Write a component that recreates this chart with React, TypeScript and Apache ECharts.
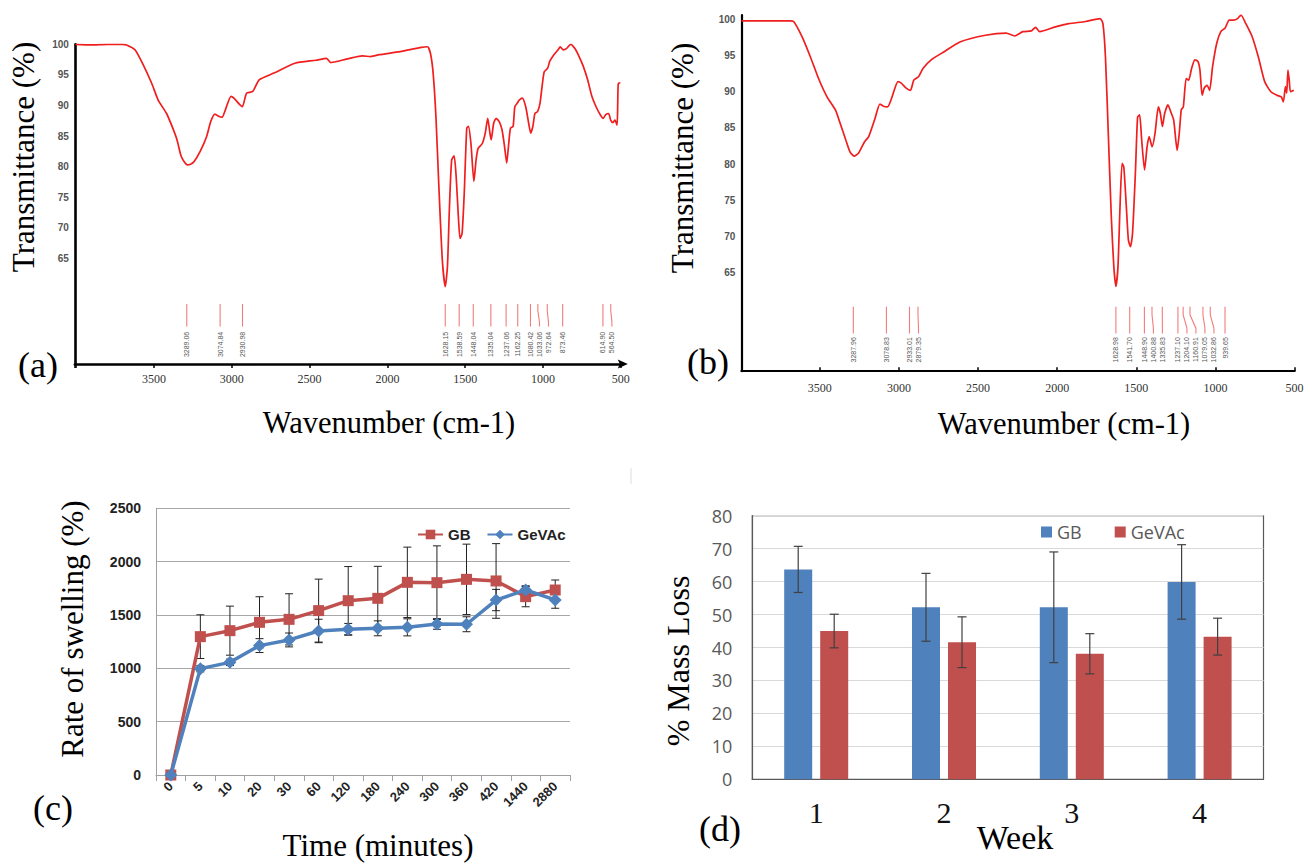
import React, { useEffect, useRef } from 'react';
import * as echarts from 'echarts';

// ---------- (a) & (b) FTIR spectra ----------
const wavenumberTickLabels = [500, 1000, 1500, 2000, 2500, 3000, 3500];
const transmittanceTickLabels = [65, 70, 75, 80, 85, 90, 95, 100];

const spectrumA: [number, number][] = [
  [4005, 100.0], [3900, 99.9], [3800, 100.0], [3703, 100.0], [3676, 99.9], [3622, 99.1], [3568, 96.6],
  [3514, 93.6], [3473, 90.9], [3419, 88.7], [3379, 86.3], [3352, 84.4], [3325, 81.7], [3300, 80.6],
  [3284, 80.3], [3265, 80.4], [3243, 80.8], [3203, 82.5], [3162, 84.9], [3135, 87.4], [3108, 88.6],
  [3081, 88.2], [3062, 88.1], [3041, 89.3], [3005, 91.5], [2986, 91.2], [2950, 90.2], [2932, 89.8],
  [2905, 92.0], [2865, 92.3], [2824, 94.2], [2729, 95.3], [2594, 96.9], [2459, 97.4], [2391, 97.7],
  [2364, 97.0], [2323, 97.2], [2242, 97.7], [2161, 98.1], [2107, 98.0], [2053, 98.3], [1918, 98.8],
  [1782, 99.5], [1742, 99.6], [1723, 98.5], [1706, 95.3], [1688, 88.2], [1669, 76.7], [1647, 64.8],
  [1628, 60.4], [1614, 63.7], [1601, 73.5], [1587, 81.1], [1571, 81.8], [1558, 78.4], [1544, 71.9],
  [1533, 68.3], [1520, 69.1], [1506, 75.7], [1490, 86.3], [1479, 86.6], [1463, 83.8], [1444, 77.6],
  [1430, 81.1], [1417, 83.0], [1390, 83.8], [1371, 85.5], [1355, 87.9], [1341, 85.5], [1333, 84.4],
  [1317, 87.1], [1301, 87.9], [1282, 87.4], [1263, 86.0], [1247, 83.3], [1233, 80.6], [1222, 83.3],
  [1209, 86.3], [1192, 86.6], [1181, 89.8], [1165, 90.4], [1152, 90.9], [1133, 91.2], [1111, 89.8],
  [1092, 87.1], [1079, 85.5], [1065, 86.6], [1052, 88.7], [1035, 89.0], [1019, 90.4], [1006, 93.1],
  [992, 95.5], [970, 96.1], [957, 97.2], [930, 98.3], [903, 99.1], [889, 99.6], [870, 99.1],
  [849, 99.3], [822, 100.0], [795, 99.3], [768, 98.0], [741, 96.4], [713, 94.2], [686, 91.5],
  [659, 89.8], [632, 88.5], [613, 87.9], [597, 88.5], [578, 88.7], [565, 87.6], [551, 87.2],
  [538, 87.6], [524, 86.8], [520, 90.0], [516, 93.6], [503, 93.7],
];

const spectrumB: [number, number][] = [
  [3995, 99.8], [3850, 99.8], [3691, 99.8], [3665, 99.7], [3612, 97.6], [3559, 94.8], [3507, 91.8],
  [3454, 89.3], [3401, 87.5], [3375, 85.9], [3335, 83.3], [3309, 81.7], [3283, 81.1], [3256, 81.5],
  [3217, 83.1], [3191, 83.8], [3151, 86.3], [3120, 88.3], [3098, 88.0], [3072, 87.9], [3046, 89.1],
  [3006, 91.4], [2985, 91.2], [2954, 90.5], [2927, 90.2], [2906, 91.6], [2875, 92.1], [2848, 93.2],
  [2796, 94.4], [2717, 95.5], [2611, 96.9], [2453, 97.8], [2322, 98.1], [2269, 97.7], [2216, 98.3],
  [2164, 98.4], [2137, 98.9], [2111, 98.3], [2006, 99.0], [1927, 99.4], [1821, 99.7], [1729, 100.1],
  [1711, 99.4], [1695, 94.8], [1677, 84.2], [1658, 72.7], [1642, 65.8], [1629, 63.1], [1616, 65.8],
  [1603, 74.1], [1590, 80.1], [1579, 79.6], [1563, 74.1], [1550, 69.5], [1537, 68.6], [1524, 70.4],
  [1506, 78.7], [1492, 86.5], [1479, 86.8], [1466, 83.3], [1448, 79.2], [1432, 82.4], [1419, 83.8],
  [1400, 82.4], [1382, 84.2], [1361, 87.9], [1348, 87.0], [1335, 85.2], [1321, 87.0], [1300, 88.2],
  [1282, 87.2], [1264, 86.1], [1242, 81.9], [1229, 84.2], [1216, 87.5], [1203, 87.9], [1185, 91.8],
  [1169, 91.6], [1151, 93.2], [1130, 94.4], [1111, 94.2], [1098, 93.0], [1084, 89.5], [1071, 90.5],
  [1053, 90.9], [1037, 90.2], [1018, 93.5], [992, 96.7], [966, 98.3], [939, 98.8], [913, 99.9],
  [887, 99.9], [860, 100.1], [839, 100.6], [808, 99.4], [768, 97.6], [729, 94.8], [689, 91.4],
  [650, 90.0], [610, 89.5], [584, 89.3], [571, 88.6], [558, 90.7], [550, 89.8], [542, 93.0],
  [534, 91.6], [526, 90.0], [505, 90.2],
];

const peaksA = [3289.06, 3074.84, 2930.98, 1628.15, 1538.59, 1448.04, 1335.04, 1237.06, 1162.25, 1080.42, 1033.06, 972.64, 873.46, 614.9, 564.5];
const peaksB = [3287.96, 3078.83, 2933.01, 2879.35, 1628.98, 1541.7, 1448.9, 1400.88, 1335.83, 1237.1, 1204.1, 1160.91, 1079.05, 1032.86, 939.65];

// ---------- (c) swelling ----------
const timeCategories = ['0', '5', '10', '20', '30', '60', '120', '180', '240', '300', '360', '420', '1440', '2880'];
const swellingGB = [0, 1297, 1353, 1431, 1459, 1541, 1634, 1656, 1806, 1803, 1834, 1819, 1672, 1734];
const swellingGBErr = [0, 205, 230, 240, 240, 295, 320, 300, 330, 345, 330, 350, 95, 94];
const swellingGeVAc = [0, 997, 1056, 1213, 1266, 1350, 1366, 1375, 1384, 1416, 1413, 1640, 1734, 1641];
const swellingGeVAcErr = [0, 30, 30, 65, 65, 110, 55, 70, 80, 50, 70, 100, 40, 78];
const swellingTicks = [0, 500, 1000, 1500, 2000, 2500];

// ---------- (d) mass loss ----------
const weeks = ['1', '2', '3', '4'];
const massLossGB = [63.7, 52.2, 52.2, 59.9];
const massLossGBErr = [7.0, 10.3, 16.8, 11.3];
const massLossGeVAc = [45.0, 41.6, 38.1, 43.3];
const massLossGeVAcErr = [5.1, 7.7, 6.1, 5.6];
const massLossTicks = [0, 10, 20, 30, 40, 50, 60, 70, 80];

const SERIF = 'Liberation Serif, Times New Roman, serif';
const SANS = 'Liberation Sans, Arial, sans-serif';
const CALIBRI = 'Open Sans, sans-serif';
const SPEC_RED = '#f01e1e';
const PEAK_RED = '#f27c7c';
const RED = '#c0504d';
const BLUE = '#4f81bd';
const LABEL_SPACING = 9;

// panel (a) plot frame, used for the grid and the axis arrow head
const GRID_A = { left: 74.9, top: 44.3, width: 545.9, height: 319.6 };

function isMultiple(v: number, m: number) {
  return Math.abs(v / m - Math.round(v / m)) < 1e-6;
}

function makePeakRenderer(peaks: number[], yTop: number, yBottom: number, yLabel: number) {
  return (params: any, api: any) => {
    const i = params.dataIndex;
    let prev = -Infinity;
    let lineX = 0;
    let labelX = 0;
    for (let k = 0; k <= i; k++) {
      const x = api.coord([peaks[k], yTop])[0];
      const lx = Math.max(x, prev + LABEL_SPACING);
      prev = lx;
      if (k === i) {
        lineX = x;
        labelX = lx;
      }
    }
    const yT = api.coord([peaks[i], yTop])[1];
    const yB = api.coord([peaks[i], yBottom])[1];
    const yL = api.coord([peaks[i], yLabel])[1];
    const h = yB - yT;
    return {
      type: 'group',
      children: [
        {
          type: 'polyline',
          shape: { points: [[lineX, yT], [lineX, yT + h * 0.3], [labelX, yT + h * 0.8], [labelX, yB]] },
          style: { stroke: PEAK_RED, lineWidth: 1.1, fill: 'none' },
        },
        {
          type: 'text',
          x: labelX,
          y: yL,
          rotation: Math.PI / 2,
          style: {
            text: peaks[i].toFixed(2),
            fontSize: 7,
            fontFamily: SANS,
            fill: '#555',
            align: 'right',
            verticalAlign: 'middle',
          },
        },
      ],
    };
  };
}

function makeErrRenderer(offset: number, cap: number, color: string, width: number) {
  return (params: any, api: any) => {
    const idx = api.value(0);
    const v = api.value(1);
    const e = api.value(2);
    if (!e) return { type: 'group', children: [] };
    const top = api.coord([idx, v + e]);
    const bot = api.coord([idx, v - e]);
    const x = top[0] + offset;
    const style = { stroke: color, lineWidth: width };
    return {
      type: 'group',
      children: [
        { type: 'line', shape: { x1: x, y1: top[1], x2: x, y2: bot[1] }, style },
        { type: 'line', shape: { x1: x - cap / 2, y1: top[1], x2: x + cap / 2, y2: top[1] }, style },
        { type: 'line', shape: { x1: x - cap / 2, y1: bot[1], x2: x + cap / 2, y2: bot[1] }, style },
      ],
    };
  };
}

function spectrumXAxis(gridIndex: number, max: number, inside: boolean, width: number, margin: number) {
  return {
    gridIndex,
    type: 'value',
    min: 500,
    max,
    interval: 500,
    inverse: true,
    axisLine: { show: true, onZero: false, lineStyle: { color: '#000', width } },
    axisTick: { show: true, inside, length: 4, lineStyle: { color: '#000', width: 1.5 } },
    axisLabel: {
      margin,
      fontFamily: SERIF,
      fontSize: 12,
      color: '#333',
      formatter: (v: number) => (wavenumberTickLabels.indexOf(v) >= 0 ? String(v) : ''),
    },
    splitLine: { show: false },
  };
}

function spectrumYAxis(gridIndex: number, min: number, max: number, width: number) {
  return {
    gridIndex,
    type: 'value',
    min,
    max,
    interval: 0.2,
    axisLine: { show: true, onZero: false, lineStyle: { color: '#000', width } },
    axisTick: { show: false },
    splitLine: { show: false },
    axisLabel: {
      margin: 6,
      fontFamily: SANS,
      fontSize: 10,
      fontWeight: 'bold',
      color: '#555',
      formatter: (v: number) => {
        const r = Math.round(v);
        return isMultiple(v, 5) && transmittanceTickLabels.indexOf(r) >= 0 ? String(r) : '';
      },
    },
  };
}

function title(text: string, x: number, y: number, size: number, rotate = false) {
  return {
    type: 'text',
    x,
    y,
    rotation: rotate ? Math.PI / 2 : 0,
    style: {
      text,
      fontFamily: SERIF,
      fontSize: size,
      fill: '#000',
      align: 'center',
      verticalAlign: 'middle',
    },
    silent: true,
  };
}

const arrowX = GRID_A.left + GRID_A.width;
const arrowY = GRID_A.top + GRID_A.height;

const option: any = {
  animation: false,
  backgroundColor: '#ffffff',
  grid: [
    { ...GRID_A, outerBoundsMode: 'none' },
    { left: 741.4, top: 15, width: 553.2, height: 356.2, outerBoundsMode: 'none' },
    { left: 156, top: 508.3, width: 414, height: 266.7, outerBoundsMode: 'none' },
    {
      left: 752.3, top: 515.7, width: 511.2, height: 263.6, outerBoundsMode: 'none',
      show: true, borderColor: '#595959', borderWidth: 1.2, backgroundColor: 'transparent',
    },
  ],
  xAxis: [
    spectrumXAxis(0, 4008, false, 2.6, 9),
    spectrumXAxis(1, 3995, true, 2.2, 11),
    {
      gridIndex: 2,
      type: 'category',
      data: timeCategories,
      boundaryGap: true,
      axisLine: { show: true, lineStyle: { color: '#a0a0a0', width: 1 } },
      axisTick: { show: true, length: 6, lineStyle: { color: '#a0a0a0' } },
      axisLabel: { rotate: 45, margin: 9, fontFamily: SANS, fontWeight: 'bold', fontSize: 13, color: '#222', interval: 0 },
      splitLine: { show: false },
    },
    {
      gridIndex: 3,
      type: 'category',
      data: weeks,
      axisLine: { show: true, lineStyle: { color: '#595959', width: 1.2 } },
      axisTick: { show: false },
      axisLabel: { margin: 18, fontFamily: SERIF, fontSize: 30, color: '#111' },
      splitLine: { show: false },
    },
  ],
  yAxis: [
    spectrumYAxis(0, 47.8, 100, 2.6),
    spectrumYAxis(1, 51.4, 100.6, 2.2),
    {
      gridIndex: 2,
      type: 'value',
      min: swellingTicks[0],
      max: swellingTicks[swellingTicks.length - 1],
      interval: 500,
      axisLine: { show: true, lineStyle: { color: '#a0a0a0', width: 1 } },
      axisTick: { show: false },
      splitLine: { show: true, lineStyle: { color: '#a8a8a8', width: 1 } },
      axisLabel: {
        margin: 15, fontFamily: SANS, fontWeight: 'bold', fontSize: 14, color: '#222',
        formatter: (v: number) => String(v),
      },
    },
    {
      gridIndex: 3,
      type: 'value',
      min: massLossTicks[0],
      max: massLossTicks[massLossTicks.length - 1],
      interval: 10,
      axisLine: { show: true, lineStyle: { color: '#595959', width: 1.2 } },
      axisTick: { show: false },
      splitLine: { show: true, lineStyle: { color: '#d9d9d9', width: 1 } },
      axisLabel: { margin: 20, fontFamily: CALIBRI, fontSize: 18, color: '#595959', formatter: (v: number) => String(v) },
    },
  ],
  legend: [
    {
      data: ['GB', 'GeVAc'],
      left: 412,
      top: 522,
      itemWidth: 25,
      itemHeight: 12,
      itemGap: 16,
      selectedMode: false,
      textStyle: { fontFamily: SANS, fontWeight: 'bold', fontSize: 15, color: '#222' },
    },
    {
      data: [
        { name: 'GB', icon: 'rect', itemStyle: { color: BLUE } },
        { name: 'GeVAc', icon: 'rect', itemStyle: { color: RED } },
      ],
      left: 1036,
      top: 518,
      itemWidth: 11,
      itemHeight: 11,
      itemGap: 33,
      selectedMode: false,
      textStyle: { fontFamily: CALIBRI, fontSize: 18, color: '#595959' },
    },
  ],
  series: [
    // (c) swelling lines
    {
      type: 'line',
      name: 'GB',
      xAxisIndex: 2,
      yAxisIndex: 2,
      data: swellingGB,
      symbol: 'rect',
      symbolSize: 11,
      lineStyle: { color: RED, width: 3.5 },
      itemStyle: { color: RED },
      z: 3,
    },
    {
      type: 'line',
      name: 'GeVAc',
      xAxisIndex: 2,
      yAxisIndex: 2,
      data: swellingGeVAc,
      symbol: 'diamond',
      symbolSize: 13,
      lineStyle: { color: BLUE, width: 3.5 },
      itemStyle: { color: BLUE },
      z: 4,
    },
    {
      type: 'custom',
      xAxisIndex: 2,
      yAxisIndex: 2,
      renderItem: makeErrRenderer(0, 8, '#222', 1),
      data: swellingGB.map((v, i) => [i, v, swellingGBErr[i]]),
      encode: { x: 0, y: 1 },
      z: 2,
      silent: true,
    },
    {
      type: 'custom',
      xAxisIndex: 2,
      yAxisIndex: 2,
      renderItem: makeErrRenderer(0, 8, '#222', 1),
      data: swellingGeVAc.map((v, i) => [i, v, swellingGeVAcErr[i]]),
      encode: { x: 0, y: 1 },
      z: 2,
      silent: true,
    },
    // (d) mass loss bars
    {
      type: 'bar',
      name: 'GB',
      xAxisIndex: 3,
      yAxisIndex: 3,
      data: massLossGB,
      barWidth: 28,
      barGap: '28.6%',
      itemStyle: { color: BLUE },
    },
    {
      type: 'bar',
      name: 'GeVAc',
      xAxisIndex: 3,
      yAxisIndex: 3,
      data: massLossGeVAc,
      barWidth: 28,
      barGap: '28.6%',
      itemStyle: { color: RED },
    },
    {
      type: 'custom',
      xAxisIndex: 3,
      yAxisIndex: 3,
      renderItem: makeErrRenderer(-18, 9, '#404040', 1.2),
      data: massLossGB.map((v, i) => [i, v, massLossGBErr[i]]),
      encode: { x: 0, y: 1 },
      z: 5,
      silent: true,
    },
    {
      type: 'custom',
      xAxisIndex: 3,
      yAxisIndex: 3,
      renderItem: makeErrRenderer(18, 9, '#404040', 1.2),
      data: massLossGeVAc.map((v, i) => [i, v, massLossGeVAcErr[i]]),
      encode: { x: 0, y: 1 },
      z: 5,
      silent: true,
    },
    // (a) spectrum
    {
      type: 'line',
      name: 'Spectrum (a)',
      xAxisIndex: 0,
      yAxisIndex: 0,
      data: spectrumA,
      showSymbol: false,
      smooth: 0.2,
      lineStyle: { color: SPEC_RED, width: 1.7 },
      silent: true,
    },
    {
      type: 'custom',
      xAxisIndex: 0,
      yAxisIndex: 0,
      renderItem: makePeakRenderer(peaksA, 57.6, 53.9, 53.05),
      data: peaksA.map((w) => [w, 57.6]),
      encode: { x: 0, y: 1 },
      silent: true,
    },
    // (b) spectrum
    {
      type: 'line',
      name: 'Spectrum (b)',
      xAxisIndex: 1,
      yAxisIndex: 1,
      data: spectrumB,
      showSymbol: false,
      smooth: 0.2,
      lineStyle: { color: SPEC_RED, width: 1.7 },
      silent: true,
    },
    {
      type: 'custom',
      xAxisIndex: 1,
      yAxisIndex: 1,
      renderItem: makePeakRenderer(peaksB, 60.3, 56.6, 56.1),
      data: peaksB.map((w) => [w, 60.3]),
      encode: { x: 0, y: 1 },
      silent: true,
    },
  ],
  graphic: [
    title('Transmittance (%)', 23, 157, 31, true),
    title('(a)', 38, 365, 36),
    title('Wavenumber (cm-1)', 389, 423, 30.5),
    title('Transmittance (%)', 682, 158, 31, true),
    title('(b)', 708, 362, 36),
    title('Wavenumber (cm-1)', 1064, 424, 30.5),
    title('Rate of swelling (%)', 72, 629, 31, true),
    title('(c)', 53, 808, 36),
    title('Time (minutes)', 378, 845, 31),
    title('% Mass Loss', 678, 661, 32, true),
    title('(d)', 720, 829, 36),
    title('Week', 1015, 837, 34),
    {
      type: 'polygon',
      shape: {
        points: [
          [arrowX + 7, arrowY],
          [arrowX - 3, arrowY - 4.5],
          [arrowX - 1, arrowY],
          [arrowX - 3, arrowY + 4.5],
        ],
      },
      style: { fill: '#000' },
      silent: true,
    },
    {
      type: 'line',
      shape: { x1: 631, y1: 468, x2: 631, y2: 484 },
      style: { stroke: '#dddddd', lineWidth: 1 },
      silent: true,
    },
  ],
};

export default function App() {
  const ref = useRef<HTMLDivElement>(null);
  useEffect(() => {
    if (!ref.current) return;
    const chart = echarts.init(ref.current, null, { renderer: 'svg' });
    chart.setOption(option);
    return () => chart.dispose();
  }, []);
  return (
    <div
      ref={ref}
      style={{ position: 'fixed', left: 0, top: 0, width: 1314, height: 864, background: '#ffffff' }}
    />
  );
}
